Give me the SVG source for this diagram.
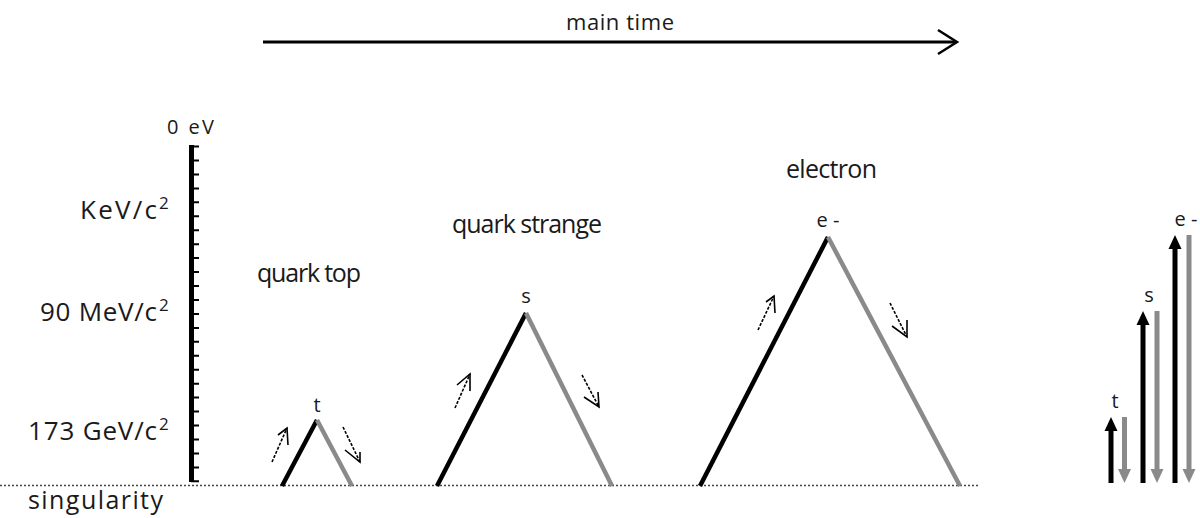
<svg xmlns="http://www.w3.org/2000/svg" width="1200" height="518" viewBox="0 0 1200 518">
<style>
text{font-family:"Open Sans","Liberation Sans",sans-serif;fill:#1a1a1a}
.lbl{font-size:25px}
.ax{font-size:26px}
.sup{font-size:17px}
.ltr{font-size:20px;text-anchor:middle}
.up{stroke:#000;stroke-width:4.5;fill:none;stroke-linecap:butt}
.down{stroke:#8a8a8a;stroke-width:4.5;fill:none;stroke-linecap:butt}
.dash{stroke:#000;stroke-width:1.6;fill:none;stroke-dasharray:3 1.5}
.wing{stroke:#000;stroke-width:1.6;fill:none}
</style>
<rect width="1200" height="518" fill="#fff"/>

<g id="main-time">
<text x="566" y="30" style="font-size:22px" textLength="108" lengthAdjust="spacing">main time</text>
<line x1="263" y1="42" x2="956" y2="42" stroke="#000" stroke-width="3"/>
<path d="M938,30 L957,42 L938,54" stroke="#000" stroke-width="2.5" fill="none"/>
</g>

<g id="axis">
<rect x="189" y="145" width="5" height="337" fill="#000"/>
<path d="M191,146.5h8M191,160.5h8M191,174.4h8M191,188.4h8M191,202.3h8M191,216.3h8M191,230.2h8M191,244.2h8M191,258.1h8M191,272.1h8M191,286h8M191,300h8M191,313.9h8M191,327.9h8M191,341.8h8M191,355.8h8M191,369.7h8M191,383.7h8M191,397.6h8M191,411.6h8M191,425.5h8M191,439.5h8M191,453.4h8M191,467.4h8M191,481.3h8" stroke="#000" stroke-width="2"/>
<text x="167" y="134" style="font-size:20px" textLength="47" lengthAdjust="spacing">0 eV</text>
<text class="ax" x="80" y="219" textLength="77" lengthAdjust="spacing">KeV/c</text>
<text class="sup" x="159" y="209">2</text>
<text class="ax" x="40" y="321" textLength="117" lengthAdjust="spacing">90 MeV/c</text>
<text class="sup" x="159" y="311">2</text>
<text class="ax" x="28" y="440" textLength="129" lengthAdjust="spacing">173 GeV/c</text>
<text class="sup" x="159" y="430">2</text>
</g>

<g id="baseline">
<line x1="0" y1="485.5" x2="980" y2="485.5" stroke="#444" stroke-width="1.6" stroke-dasharray="2 2"/>
<text class="lbl" x="28" y="509" textLength="135" lengthAdjust="spacing">singularity</text>
</g>

<g id="quark-top">
<text class="lbl" x="257" y="282" textLength="104" lengthAdjust="spacing">quark top</text>
<text class="ltr" x="317" y="412">t</text>
<line class="up" x1="282" y1="486" x2="317" y2="420"/>
<line class="down" x1="317" y1="420" x2="352" y2="486"/>
<path class="dash" d="M272,462 L287,428"/>
<path class="wing" d="M278,435 L287,428 L288,445"/>
<path class="dash" d="M343,427 L360,462"/>
<path class="wing" d="M345,450 L360,462 L360,452"/>
</g>

<g id="quark-strange">
<text class="lbl" x="452" y="233" textLength="150" lengthAdjust="spacing">quark strange</text>
<text class="ltr" x="526" y="303">s</text>
<line class="up" x1="437" y1="486" x2="526" y2="313"/>
<line class="down" x1="526" y1="313" x2="612" y2="486"/>
<path class="dash" d="M455,408 L470,374"/>
<path class="wing" d="M457,385 L470,374 L470,391"/>
<path class="dash" d="M582,375 L599,407"/>
<path class="wing" d="M584,397 L599,407 L598,392"/>
</g>

<g id="electron">
<text class="lbl" x="786" y="178" textLength="91" lengthAdjust="spacing">electron</text>
<text class="ltr" x="828" y="227">e -</text>
<line class="up" x1="700" y1="486" x2="828" y2="237"/>
<line class="down" x1="828" y1="237" x2="960" y2="486"/>
<path class="dash" d="M758,330 L774,296"/>
<path class="wing" d="M766,302 L774,296 L775,313"/>
<path class="dash" d="M890,303 L907,337"/>
<path class="wing" d="M892,326 L907,337 L907,320"/>
</g>

<g id="summary">
<text class="ltr" x="1115" y="408">t</text>
<text class="ltr" x="1149" y="302">s</text>
<text class="ltr" x="1186" y="226">e -</text>
<rect x="1108.5" y="429" width="5" height="54" fill="#000"/>
<path d="M1104.5,431 L1111,417 L1117.5,431 Z" fill="#000"/>
<rect x="1122" y="417" width="5" height="54" fill="#8a8a8a"/>
<path d="M1118,469 L1124.5,483 L1131,469 Z" fill="#8a8a8a"/>
<rect x="1140.5" y="323" width="5" height="160" fill="#000"/>
<path d="M1136.5,325 L1143,311 L1149.5,325 Z" fill="#000"/>
<rect x="1154.5" y="311" width="5" height="160" fill="#8a8a8a"/>
<path d="M1150.5,469 L1157,483 L1163.5,469 Z" fill="#8a8a8a"/>
<rect x="1172.5" y="247" width="5" height="236" fill="#000"/>
<path d="M1168.5,249 L1175,235 L1181.5,249 Z" fill="#000"/>
<rect x="1186.5" y="235" width="5" height="236" fill="#8a8a8a"/>
<path d="M1182.5,469 L1189,483 L1195.5,469 Z" fill="#8a8a8a"/>
</g>
</svg>
